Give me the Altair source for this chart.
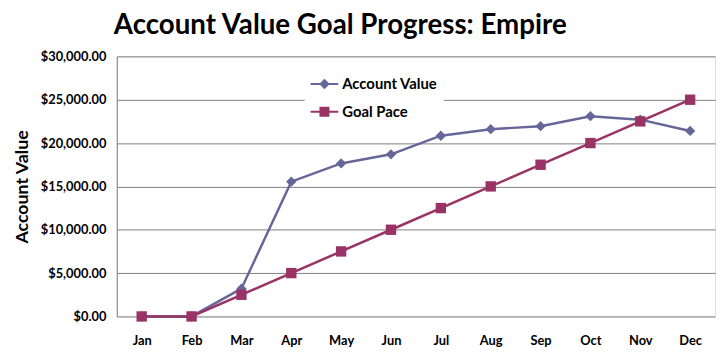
import altair as alt
import pandas as pd

months = ["Jan", "Feb", "Mar", "Apr", "May", "Jun", "Jul", "Aug", "Sep", "Oct", "Nov", "Dec"]
account_value = [0, 0, 3200, 15550, 17650, 18700, 20850, 21600, 21950, 23100, 22700, 21400]
goal_pace = [0, 0, 2500, 5000, 7500, 10000, 12500, 15000, 17500, 20000, 22500, 25000]
series_names = ["Account Value", "Goal Pace"]
series_colors = ["#666699", "#993366"]
marker_shapes = ["diamond", "square"]

rows = []
for m, v in zip(months, account_value):
    rows.append({"month": m, "value": v, "series": series_names[0]})
for m, v in zip(months, goal_pace):
    rows.append({"month": m, "value": v, "series": series_names[1]})
df = pd.DataFrame(rows)

FONT = "Lato"

x_enc = alt.X("month:O", sort=months, scale=alt.Scale(type="point", padding=0.5),
              axis=alt.Axis(title=None, labelFont=FONT, labelFontWeight="bold", labelFontSize=13,
                            labelColor="black", labelAngle=0, ticks=False, domain=False,
                            labelPadding=18, grid=False))
y_enc = alt.Y("value:Q", scale=alt.Scale(domain=[0, 30000], nice=False),
              axis=alt.Axis(title="Account Value", titleFont=FONT, titleFontSize=18,
                            titleFontWeight="bold", titleColor="black", titlePadding=9,
                            format="$,.2f", values=[0, 5000, 10000, 15000, 20000, 25000, 30000],
                            labelFont=FONT, labelFontWeight="bold", labelFontSize=13,
                            labelColor="black", ticks=False, labelPadding=11,
                            domain=True, domainColor="#808080", domainWidth=1,
                            grid=True, gridColor="#808080", gridWidth=1))

color_scale = alt.Scale(domain=series_names, range=series_colors)

base = alt.Chart(df)

lines = base.mark_line(strokeWidth=2.5).encode(
    x=x_enc, y=y_enc,
    color=alt.Color("series:N", scale=color_scale, legend=None),
)

points = base.mark_point(filled=True, opacity=1, size=110).encode(
    x=x_enc, y=y_enc,
    color=alt.Color("series:N", scale=color_scale, legend=None),
    shape=alt.Shape("series:N", scale=alt.Scale(domain=series_names, range=marker_shapes), legend=None),
)

leg_paths = [
    "M-1,-0.07H1V0.07H-1Z M0,-0.38L0.38,0L0,0.38L-0.38,0Z",
    "M-1,-0.07H1V0.07H-1Z M-0.36,-0.36H0.36V0.36H-0.36Z",
]

def make_legend():
    return alt.Legend(title=None, orient="none", legendX=190, legendY=8,
                      fillColor="white", padding=6, symbolSize=784,
                      labelFont=FONT, labelFontWeight="bold", labelFontSize=15,
                      labelColor="black", labelOffset=4, rowPadding=6,
                      symbolStrokeWidth=0)

legend_layer = base.transform_filter("false").mark_point(filled=True, opacity=1, size=784).encode(
    color=alt.Color("series:N", scale=color_scale, legend=make_legend()),
    shape=alt.Shape("series:N", scale=alt.Scale(domain=series_names, range=leg_paths),
                    legend=make_legend()),
)

chart = alt.layer(lines, points, legend_layer).resolve_scale(
    color="independent", shape="independent"
).properties(
    width=605, height=263,
    autosize=alt.AutoSizeParams(type="none"),
    padding={"left": 110, "top": 47, "right": 5, "bottom": 30},
    title=alt.Title("Account Value Goal Progress: Empire", font=FONT, fontSize=28,
                    fontWeight="bold", color="black", anchor="start", frame="group",
                    dx=-3, offset=11),
).configure_view(stroke=None).configure(background="white")

chart.save("out.html", embed_options={"renderer": "svg", "actions": False})
